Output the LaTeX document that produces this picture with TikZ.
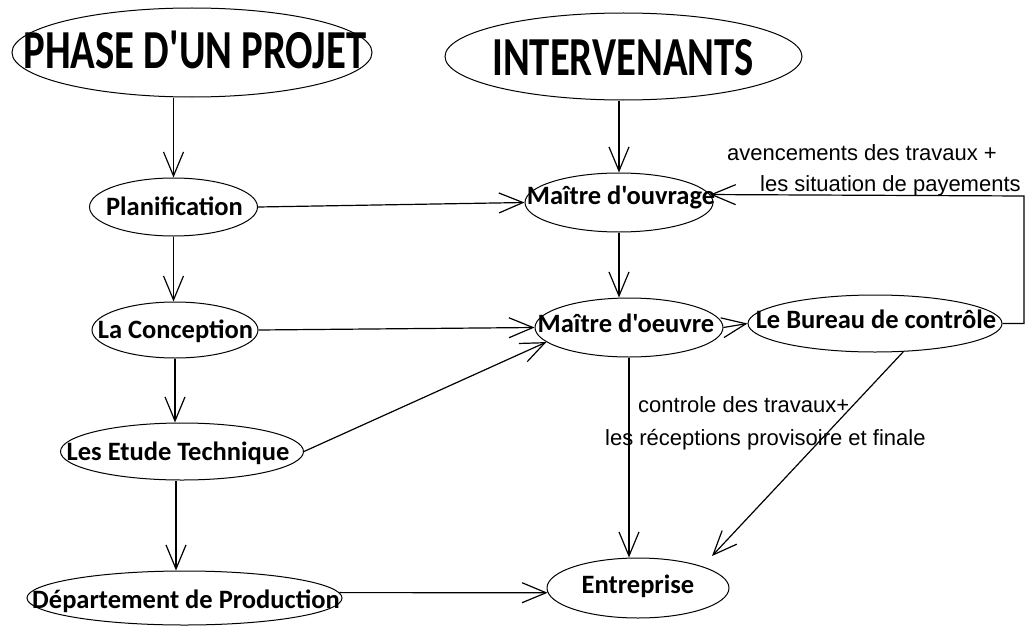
\documentclass[tikz,border=0pt]{standalone}
\usepackage{fontspec}
\setmainfont{Carlito}
\newfontfamily\boxfont{Carlito}
\newfontfamily\titlefont[FakeStretch=0.74]{Carlito}
\newfontfamily\labelfont{Liberation Sans}
\usetikzlibrary{arrows.meta,shapes.geometric}
\begin{document}
\begin{tikzpicture}[x=1pt,y=-1pt,
  oval/.style={draw, ellipse, line width=1pt, inner sep=0pt},
  nodetext/.style={font=\boxfont\fontsize{26.5}{30}\selectfont\bfseries, anchor=base, inner sep=0pt},
  titletext/.style={font=\titlefont\fontsize{55}{60}\selectfont\bfseries, anchor=base, inner sep=0pt},
  lbl/.style={font=\labelfont\fontsize{22}{26}\selectfont, anchor=base west, inner sep=0pt},
  conn/.style={line width=1.2pt, -{Straight Barb[length=24pt,width=20pt,line width=1.2pt]}},
]
\useasboundingbox (0,0) rectangle (1030,626);

% ellipses
\node[oval, minimum width=360, minimum height=89] (phase) at (192,52.5) {};
\node[oval, minimum width=357, minimum height=87] (inter) at (623.5,56.5) {};
\node[oval, minimum width=168, minimum height=58] (plan) at (173.5,207) {};
\node[oval, minimum width=166, minimum height=56] (conc) at (175,330) {};
\node[oval, minimum width=243, minimum height=57] (etude) at (182,451.5) {};
\node[oval, minimum width=315, minimum height=54] (dep) at (184.5,598) {};
\node[oval, minimum width=188, minimum height=59] (mo) at (619,202.5) {};
\node[oval, minimum width=188, minimum height=59] (moe) at (629,327.5) {};
\node[oval, minimum width=254, minimum height=57] (bur) at (875,323.5) {};
\node[oval, minimum width=182, minimum height=60] (ent) at (638,588) {};

% texts
\node[titletext] (tphase) at (195,68) {PHASE D'UN PROJET};
\node[titletext] (tinter) at (623,75) {INTERVENANTS};
\node[nodetext] (tplan) at (174.5,215) {Planification};
\node[nodetext] (tconc) at (175.5,338) {La Conception};
\node[nodetext] (tetude) at (178,460) {Les Etude Technique};
\node[nodetext] (tdep) at (186,608) {Département de Production};
\node[nodetext] (tmo) at (621,204) {Maître d'ouvrage};
\node[nodetext] (tmoe) at (626,332) {Maître d'oeuvre};
\node[nodetext] (tbur) at (876,328) {Le Bureau de contrôle};
\node[nodetext] (tent) at (638,593) {Entreprise};

% labels
\node[lbl] (l1) at (727,160) {avencements des travaux +};
\node[lbl] (l2) at (760,191) {les situation de payements};
\node[lbl] (l3) at (638,412) {controle des travaux+};
\node[lbl] (l4) at (605,445) {les réceptions provisoire et finale};

% connectors
\coordinate (fb) at (1024,196);
\coordinate (bt) at (712,556);
\draw[conn] (phase.south -| plan.north) -- (plan.north);
\draw[conn] (inter.south -| mo.north) -- (mo.north);
\draw[conn] (plan.east) -- (mo.west);
\draw[conn] (plan.south) -- (plan.south |- conc.north);
\draw[conn] (conc.east) -- (moe.west);
\draw[conn] (mo.south) -- (mo.south |- moe.north);
\draw[conn] (moe.east) -- (bur.west);
\draw[conn] (bur.east) -| (fb) -- (mo.5);
\draw[conn] (etude.east) -- (moe.190);
\draw[conn] (conc.south) -- (conc.south |- etude.north);
\draw[conn] ([xshift=-6pt]etude.south) -- ([xshift=-6pt]etude.south |- dep.north);
\draw[conn] (dep.2) -- (ent.183);
\draw[conn] (moe.south) -- (moe.south |- ent.north);
\draw[conn] (bur.315) -- (bt);
\end{tikzpicture}
\end{document}
